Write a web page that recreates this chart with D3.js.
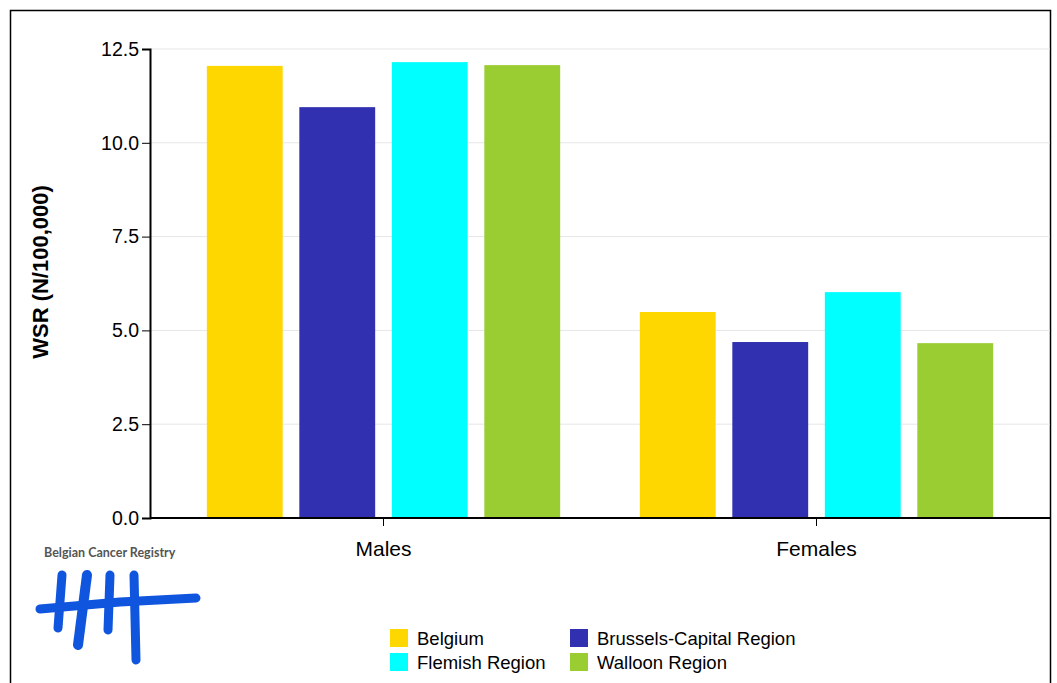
<!DOCTYPE html>
<html><head><meta charset="utf-8">
<script src="https://cdn.jsdelivr.net/npm/d3@7"></script>
<style>body{margin:0;background:#fff;font-family:"Liberation Sans",Arial,sans-serif;}</style>
</head><body><div class="chart"></div>
<script>
const groups = ["Males", "Females"];
const regions = ["Belgium", "Brussels-Capital Region", "Flemish Region", "Walloon Region"];
const colors = ["#ffd700", "#3030b0", "#00ffff", "#9acd32"];
const values = {
  "Males": [12.05, 10.95, 12.15, 12.07],
  "Females": [5.49, 4.69, 6.02, 4.66]
};
const yTicks = [0, 2.5, 5, 7.5, 10, 12.5];

const svg = d3.select('.chart').append('svg').attr('width', 1057).attr('height', 683);

// outer frame
svg.append('path').attr('d', 'M10.5,683 V10.5 H1050.5 V683').attr('fill', 'none').attr('stroke', '#000').attr('stroke-width', 1.5);

const y = d3.scaleLinear().domain([0, 12.5]).range([518, 49]);
const x = d3.scaleBand().domain(groups).range([167, 1033]);
const xi = d3.scaleBand().domain(regions).range([-185, 185]).paddingInner(0.18).paddingOuter(0.09);

// grid
svg.append('g').selectAll('line').data(yTicks.slice(1)).enter().append('line')
  .attr('x1', 150).attr('x2', 1050).attr('y1', d => y(d)).attr('y2', d => y(d))
  .attr('stroke', '#e6e6e6');

svg.selectAll('.grp').data(groups).enter().append('g')
  .attr('transform', d => `translate(${x(d) + x.bandwidth() / 2},0)`)
  .selectAll('rect').data(g => values[g].map((v, i) => ({v, r: regions[i], i})))
  .enter().append('rect')
  .attr('x', d => xi(d.r)).attr('width', xi.bandwidth())
  .attr('y', d => y(d.v)).attr('height', d => y(0) - y(d.v))
  .attr('fill', d => colors[d.i]);

const yAxis = svg.append('g').attr('transform', 'translate(150,0)')
  .call(d3.axisLeft(y).tickValues(yTicks).tickFormat(d3.format('.1f')).tickSizeOuter(0).tickSize(8));
yAxis.selectAll('text').attr('font-size', 19.5).attr('font-family', 'Liberation Sans, Arial').attr('fill', '#000');
yAxis.select('.domain').attr('stroke-width', 2);

const xAxis = svg.append('g').attr('transform', 'translate(0,518)')
  .call(d3.axisBottom(x).tickSizeOuter(0).tickSize(8));
xAxis.select('.domain').attr('d', 'M150,0H1050').attr('stroke-width', 2);
xAxis.selectAll('text').attr('font-size', 21).attr('dy', '1.3em').attr('font-family', 'Liberation Sans, Arial').attr('fill', '#000');

svg.append('text').attr('transform', 'translate(48,272)rotate(-90)')
  .attr('text-anchor', 'middle').attr('font-size', 22).attr('font-weight', 'bold')
  .text('WSR (N/100,000)');

// legend
const leg = svg.selectAll('.leg').data(regions).enter().append('g')
  .attr('transform', (d, i) => `translate(${i % 2 ? 570 : 390},${i < 2 ? 629 : 653})`);
leg.append('rect').attr('width', 18).attr('height', 18).attr('fill', (d, i) => colors[i]);
leg.append('text').attr('x', 27).attr('y', 16).attr('font-size', 18.5).text(d => d);

// logo
svg.append('text').attr('x', 44).attr('y', 557).attr('font-size', 12.5).attr('font-weight', 'bold')
  .attr('fill', '#555').attr('font-family', 'Lato, sans-serif').text('Belgian Cancer Registry');
const logo = svg.append('g').attr('stroke', '#1055dd').attr('fill', 'none').attr('stroke-linecap', 'round');
const strokes = [
  [[62, 575], [58, 628], 9], [[87, 575], [78, 645], 10], [[110, 575], [108, 630], 9],
  [[134, 575], [136, 660], 9], [[40, 609], [120, 602], [196, 598], 9]
];
strokes.forEach(s => logo.append('path').attr('d', d3.line()(s.slice(0, -1))).attr('stroke-width', s[s.length - 1]));
</script></body></html>
